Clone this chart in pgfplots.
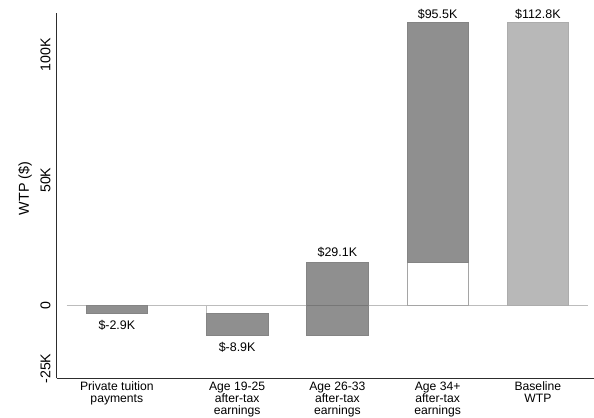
\documentclass[border=0pt]{standalone}
\usepackage{fontspec}
\setmainfont{Liberation Sans}
\usepackage{pgfplots}
\pgfplotsset{compat=1.18}
\definecolor{barA}{RGB}{143,143,143}
\definecolor{barAedge}{RGB}{132,132,132}
\definecolor{barB}{RGB}{184,184,184}
\definecolor{barBedge}{RGB}{172,172,172}
\definecolor{zline}{RGB}{188,188,188}
\definecolor{baseedge}{RGB}{165,165,165}
\definecolor{axcol}{RGB}{45,45,45}
\begin{document}
\begin{tikzpicture}
\begin{axis}[
  at={(0,0)}, anchor=south west,
  scale only axis, width=537.3bp, height=365bp,
  xmin=-0.6, xmax=4.76, ymin=-28.9, ymax=116.5,
  axis lines=left, axis line style={-, axcol, line width=0.9bp},
  clip=false,
  major tick length=0pt,
  xtick={0,1.2,2.2,3.2,4.2},
  xticklabels={{Private tuition\\payments},{Age 19-25\\after-tax\\earnings},{Age 26-33\\after-tax\\earnings},{Age 34+\\after-tax\\earnings},{Baseline\\WTP}},
  xticklabel style={align=center, anchor=north, inner sep=0pt, yshift=-3.2bp, font=\fontsize{12.2}{12.4}\selectfont},
  ytick={-25,0,50,100}, yticklabels={-25K,0,50K,100K},
  yticklabel style={rotate=90, anchor=south, inner sep=0pt, font=\fontsize{14.2}{15}\selectfont},
  yticklabel shift=6bp,
  /pgf/number format/assume math mode=true,
  ylabel={WTP (\$)},
  every axis y label/.style={at={(axis description cs:-0.059,0.52)}, rotate=90, anchor=center, font=\fontsize{14.4}{16}\selectfont},
]
% zero line
\addplot[zline, line width=0.9bp] coordinates {(-0.5,0) (4.7,0)};
% base of bar 2: only its left edge shows
\addplot[zline, line width=0.6bp] coordinates {(0.893,0) (0.893,-2.9)};
% base of bar 4
\addplot[fill=white, draw=baseedge, line width=0.7bp] coordinates {(2.893,0) (3.507,0) (3.507,17.3) (2.893,17.3)} -- cycle;
% change bars
\addplot[fill=barA, draw=barAedge, line width=0.6bp] coordinates {(-0.307,0) (0.307,0) (0.307,-2.9) (-0.307,-2.9)} -- cycle;
\addplot[fill=barA, draw=barAedge, line width=0.6bp] coordinates {(0.893,-2.9) (1.507,-2.9) (1.507,-11.8) (0.893,-11.8)} -- cycle;
\addplot[fill=barA, draw=barAedge, line width=0.6bp] coordinates {(1.893,-11.8) (2.507,-11.8) (2.507,17.3) (1.893,17.3)} -- cycle;
\addplot[barAedge!90!black, line width=0.6bp] coordinates {(1.893,0) (2.507,0)};
\addplot[fill=barA, draw=barAedge, line width=0.6bp] coordinates {(2.893,17.3) (3.507,17.3) (3.507,112.8) (2.893,112.8)} -- cycle;
% total
\addplot[fill=barB, draw=barBedge, line width=0.6bp] coordinates {(3.893,0) (4.507,0) (4.507,112.8) (3.893,112.8)} -- cycle;
% value labels
\begin{scope}[every node/.style={font=\fontsize{12.5}{13}\selectfont, inner sep=0pt, anchor=base}]
\node[yshift=-16.5bp] at (axis cs:0,-2.9) {\$-2.9K};
\node[yshift=-16.5bp] at (axis cs:1.2,-11.8) {\$-8.9K};
\node[yshift=6bp] at (axis cs:2.2,17.3) {\$29.1K};
\node[yshift=4.5bp] at (axis cs:3.2,112.8) {\$95.5K};
\node[yshift=4.5bp] at (axis cs:4.2,112.8) {\$112.8K};
\end{scope}
\end{axis}
\pgfresetboundingbox
\path[use as bounding box] (-56.7bp,-39.7bp) rectangle (537.3bp,378.3bp);
\end{tikzpicture}
\end{document}
